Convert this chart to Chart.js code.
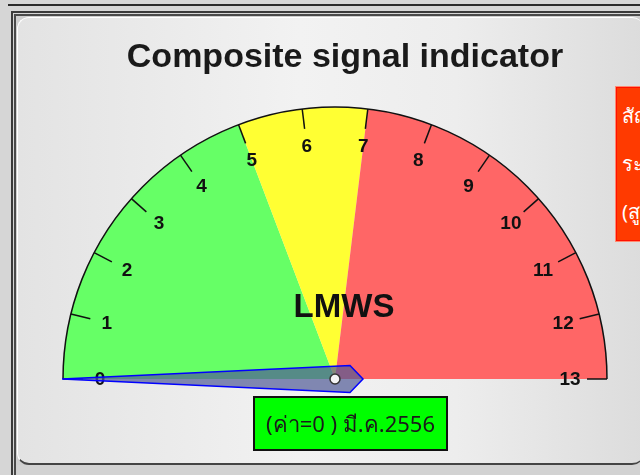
<!DOCTYPE html>
<html>
<head>
<meta charset="utf-8">
<script src="https://cdn.jsdelivr.net/npm/chart.js@4.4.1/dist/chart.umd.min.js"></script>
<style>
    body { margin: 0; width: 640px; height: 475px; overflow: hidden; background: #d6d6d6; position: relative; font-family: "Liberation Sans", Arial, sans-serif; }
    .topline { position: absolute; left: 8px; top: 4px; width: 640px; height: 2px; background: #2a2a2a; }
    .frame1 { position: absolute; left: 11px; top: 11px; width: 700px; height: 500px; border-left: 2px solid #3a3a3a; border-top: 2px solid #3a3a3a; }
    .frame2 { position: absolute; left: 14px; top: 14px; width: 700px; height: 500px; border-left: 2px solid #4a4a4a; border-top: 2px solid #4a4a4a; background: #cfcfcf; }
    .panel { position: absolute; left: 17px; top: 17px; width: 626px; height: 445px; border-radius: 12px;
        border-bottom: 2px solid #444; border-left: 1px solid #fff; border-top: 1px solid #fff;
        background: linear-gradient(to right, #e3e3e3 0%, #f2f2f2 45%, #ededed 70%, #dcdcdc 100%); }
    .bottom { position: absolute; left: 17px; top: 465px; width: 640px; height: 10px; background: #d2d2d2; }
    .redbox { position: absolute; left: 616px; top: 87px; width: 70px; height: 154px; box-sizing: border-box; background: #ff3a00;
        border: 1px solid #ff1000; box-shadow: 0 0 0 1px #ff8a70; color: #fff; font-size: 20px; line-height: 48px; padding: 4px 0 0 5px;
        font-family: "Noto Sans", "DejaVu Sans", sans-serif; }
    #gauge { position: absolute; left: 0; top: 0; }
</style>
</head>
<body>
<div class="topline"></div>
<div class="frame1"></div>
<div class="frame2"></div>
<div class="panel"></div>
<div class="bottom"></div>
<div class="redbox">สัญญาณ<br>ระดับ<br>(สูง)</div>
<canvas id="gauge" width="640" height="475"></canvas>

<script>
    // gauge data
    const titleText = "Composite signal indicator";
    const centerLabel = "LMWS";
    const bandNames = ["ปกติ", "เฝ้าระวัง", "เตือนภัย"];
    const bandValues = [5, 2, 6];          // 0-5, 5-7, 7-13
    const tickLabels = ["0", "1", "2", "3", "4", "5", "6", "7", "8", "9", "10", "11", "12", "13"];
    const gaugeValue = 0;
    const valueDate = "มี.ค.2556";

    const bandColors = ["#66ff66", "#ffff33", "#ff6666"];

    const gaugeDecor = {
        id: "gaugeDecor",
        afterDatasetsDraw(chart) {
            const ctx = chart.ctx;
            const arc = chart.getDatasetMeta(0).data[0];
            const cx = arc.x, cy = arc.y, r = arc.outerRadius;
            const maxVal = bandValues.reduce((a, b) => a + b, 0);
            const toAngle = v => -Math.PI + v / maxVal * Math.PI;

            ctx.save();

            // outer rim
            ctx.strokeStyle = "#111";
            ctx.lineWidth = 1.5;
            ctx.beginPath();
            ctx.arc(cx, cy, r, Math.PI, 2 * Math.PI);
            ctx.stroke();

            // ticks + labels
            ctx.fillStyle = "#111";
            ctx.font = "bold 19px 'Liberation Sans', Arial, sans-serif";
            ctx.textAlign = "center";
            ctx.textBaseline = "middle";
            for (let i = 0; i < tickLabels.length; i++) {
                let a = toAngle(Number(tickLabels[i]));
                let cos = Math.cos(a), sin = Math.sin(a);
                ctx.beginPath();
                ctx.moveTo(cx + r * cos, cy + r * sin);
                ctx.lineTo(cx + (r - 20) * cos, cy + (r - 20) * sin);
                ctx.stroke();
                ctx.fillText(tickLabels[i], cx + (r - 37) * cos, cy + (r - 37) * sin + 1);
            }

            // center label
            ctx.font = "bold 33px 'Liberation Sans', Arial, sans-serif";
            ctx.fillText(centerLabel, cx + 9, cy - 71);

            // needle
            let a = toAngle(gaugeValue);
            let ux = Math.cos(a), uy = Math.sin(a);
            let vx = -uy, vy = ux;
            let pt = (u, v) => [cx + u * ux + v * vx, cy + u * uy + v * vy];
            let pts = [pt(r + 1, 0), pt(-15, 13.5), pt(-28, 0), pt(-15, -13.5)];
            ctx.beginPath();
            ctx.moveTo(pts[0][0], pts[0][1]);
            for (let k = 1; k < pts.length; k++) ctx.lineTo(pts[k][0], pts[k][1]);
            ctx.closePath();
            ctx.fillStyle = "rgba(80, 90, 150, 0.7)";
            ctx.fill();
            ctx.strokeStyle = "#0000ff";
            ctx.lineWidth = 1.5;
            ctx.stroke();

            ctx.beginPath();
            ctx.arc(cx, cy, 5, 0, 2 * Math.PI);
            ctx.fillStyle = "#f4f4f4";
            ctx.fill();
            ctx.strokeStyle = "#333";
            ctx.lineWidth = 1.5;
            ctx.stroke();

            // value box
            let bx = cx - 81, by = cy + 18, bw = 193, bh = 53;
            ctx.fillStyle = "#00ff00";
            ctx.fillRect(bx, by, bw, bh);
            ctx.strokeStyle = "#111";
            ctx.lineWidth = 2;
            ctx.strokeRect(bx, by, bw, bh);
            ctx.fillStyle = "#1a1a1a";
            ctx.font = "22px 'Noto Sans', 'DejaVu Sans', sans-serif";
            ctx.fillText("(ค่า=" + gaugeValue + " ) " + valueDate, bx + bw / 2, by + bh / 2 + 2);

            // title
            ctx.font = "bold 34px 'Liberation Sans', Arial, sans-serif";
            ctx.fillText(titleText, 345, 58);

            ctx.restore();
        }
    };

    let ctx = document.getElementById("gauge").getContext("2d");
    let gaugeChart = new Chart(ctx, {
        type: "doughnut",
        data: {
            labels: bandNames,
            datasets: [
                {
                    data: bandValues,
                    backgroundColor: bandColors,
                    borderWidth: 0
                }
            ]
        },
        options: {
            responsive: false,
            animation: false,
            events: [],
            rotation: -90,
            circumference: 180,
            cutout: 0,
            radius: 272,
            layout: {
                padding: {left: 60, right: 30, top: 21, bottom: 10}
            },
            plugins: {
                legend: {display: false},
                tooltip: {enabled: false},
                title: {display: false}
            }
        },
        plugins: [gaugeDecor]
    });
</script>
</body>
</html>
